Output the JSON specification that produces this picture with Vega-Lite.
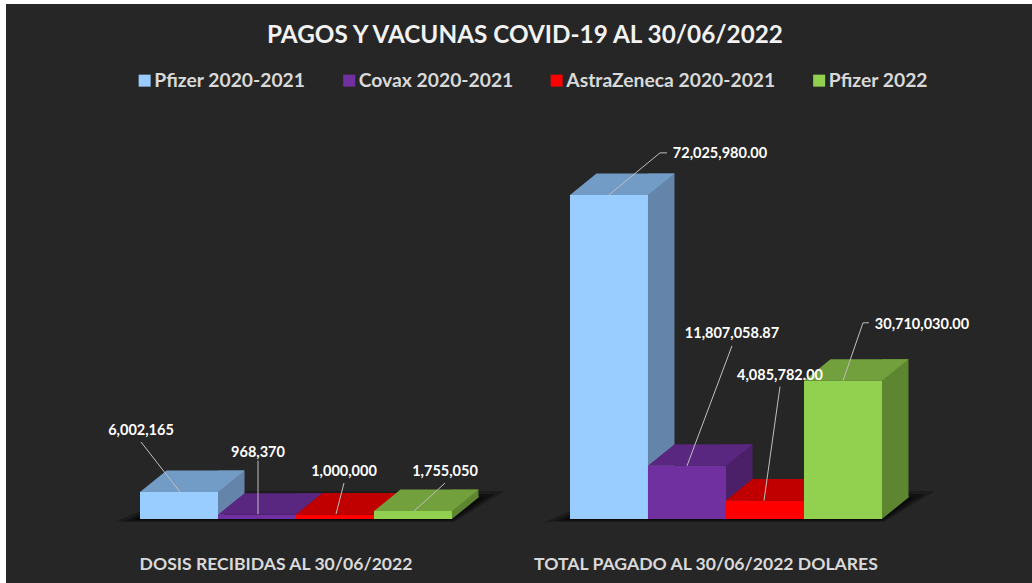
{
"$schema":"https://vega.github.io/schema/vega-lite/v6.json",
"autosize":{"type":"none"},
"padding":{"left":6,"top":4,"right":0,"bottom":0},
"width":1026,
"height":579,
"background":"#ffffff",
"view":{"fill":"#262626","stroke":null},
"title":{"text":"PAGOS Y VACUNAS COVID-19 AL 30/06/2022","anchor":"middle","dx":6,"offset":-44,"font":"Lato","fontSize":24.3,"fontWeight":"bold","color":"#F2F2F2"},
"data":{"values":[
{"grupo":"DOSIS RECIBIDAS AL 30/06/2022","serie":"Pfizer 2020-2021","valor":6002165,"etiqueta":"6,002,165"},
{"grupo":"DOSIS RECIBIDAS AL 30/06/2022","serie":"Covax 2020-2021","valor":968370,"etiqueta":"968,370"},
{"grupo":"DOSIS RECIBIDAS AL 30/06/2022","serie":"AstraZeneca 2020-2021","valor":1000000,"etiqueta":"1,000,000"},
{"grupo":"DOSIS RECIBIDAS AL 30/06/2022","serie":"Pfizer 2022","valor":1755050,"etiqueta":"1,755,050"},
{"grupo":"TOTAL PAGADO AL 30/06/2022 DOLARES","serie":"Pfizer 2020-2021","valor":72025980,"etiqueta":"72,025,980.00"},
{"grupo":"TOTAL PAGADO AL 30/06/2022 DOLARES","serie":"Covax 2020-2021","valor":11807058.87,"etiqueta":"11,807,058.87"},
{"grupo":"TOTAL PAGADO AL 30/06/2022 DOLARES","serie":"AstraZeneca 2020-2021","valor":4085782,"etiqueta":"4,085,782.00"},
{"grupo":"TOTAL PAGADO AL 30/06/2022 DOLARES","serie":"Pfizer 2022","valor":30710030,"etiqueta":"30,710,030.00"}
]},
"encoding":{
"x":{"field":"grupo","type":"nominal","sort":null,"title":null,"scale":{"type":"band","domain":["DOSIS RECIBIDAS AL 30/06/2022","TOTAL PAGADO AL 30/06/2022 DOLARES"],"range":[134,876],"paddingInner":0.2744,"paddingOuter":0},"axis":{"orient":"bottom","offset":-28,"domain":false,"ticks":false,"grid":false,"labelAngle":0,"labelOffset":-20,"labelPadding":0,"labelLimit":500,"labelOverlap":false,"labelFont":"Lato","labelFontSize":17.6,"labelFontWeight":"bold","labelColor":"#D9D9D9"}},
"xOffset":{"field":"serie","type":"nominal","sort":null,"scale":{"type":"band","domain":["Pfizer 2020-2021","Covax 2020-2021","AstraZeneca 2020-2021","Pfizer 2022"],"range":[0,312],"paddingInner":0,"paddingOuter":0}},
"y":{"field":"valor","type":"quantitative","title":null,"scale":{"domain":[0,114444444],"range":[515,0],"nice":false,"zero":true},"axis":null}
},
"layer":[
{"transform":[{"filter":"datum.serie === 'Pfizer 2020-2021'"}],"mark":{"type":"point","filled":true,"size":4,"opacity":0.25,"color":"#000000","shape":"M-64,3L275,3L326,-28L0,-28L-39,-8Z"},"encoding":{"y":{"datum":0}}},
{"transform":[{"filter":"datum.serie === 'Pfizer 2020-2021'"}],"mark":{"type":"point","filled":true,"size":4,"opacity":0.35,"color":"#000000","shape":"M-54,2L274,2L316,-25L0,-25L-39,-5Z"},"encoding":{"y":{"datum":0}}},
{"transform":[{"filter":"datum.serie === 'Pfizer 2020-2021'"}],"mark":{"type":"point","filled":true,"size":4,"opacity":0.5,"color":"#000000","shape":"M-45,1L273,1L306,-22L0,-22L-39,-3Z"},"encoding":{"y":{"datum":0}}},
{"mark":{"type":"point","filled":true,"size":4,"opacity":1,"shape":"M39,0L65.5,-21.5L65.5,-23L39,-23Z"},"encoding":{"y":{"datum":0},"color":{"field":"serie","type":"nominal","legend":null,"scale":{"domain":["Pfizer 2020-2021","Covax 2020-2021","AstraZeneca 2020-2021","Pfizer 2022"],"range":["#6485A9","#4B2069","#B00000","#5E8530"]}}}},
{"mark":{"type":"bar","width":26.5,"yOffset":-21.5,"y2Offset":-21.5},"encoding":{"xOffset":{"field":"serie","type":"nominal","sort":null,"scale":{"type":"band","domain":["Pfizer 2020-2021","Covax 2020-2021","AstraZeneca 2020-2021","Pfizer 2022"],"range":[52.25,364.25],"paddingInner":0,"paddingOuter":0}},"color":{"field":"serie","type":"nominal","legend":null,"scale":{"domain":["Pfizer 2020-2021","Covax 2020-2021","AstraZeneca 2020-2021","Pfizer 2022"],"range":["#6485A9","#4B2069","#B00000","#5E8530"]}}}},
{"mark":{"type":"point","filled":true,"size":4,"opacity":1,"shape":"M-39,0L39,0L65.5,-21.5L-12.5,-21.5Z"},"encoding":{"color":{"field":"serie","type":"nominal","legend":null,"scale":{"domain":["Pfizer 2020-2021","Covax 2020-2021","AstraZeneca 2020-2021","Pfizer 2022"],"range":["#729CC6","#592680","#C00000","#71A03C"]}}}},
{"mark":{"type":"bar","width":78},"encoding":{"color":{"field":"serie","type":"nominal","scale":{"domain":["Pfizer 2020-2021","Covax 2020-2021","AstraZeneca 2020-2021","Pfizer 2022"],"range":["#99CCFF","#7030A0","#FF0000","#92D050"]},"legend":{"title":null,"orient":"none","legendX":129,"legendY":67,"direction":"horizontal","columns":4,"gridAlign":"none","columnPadding":33.5,"symbolType":"square","symbolSize":144,"symbolStrokeWidth":0,"symbolOpacity":1,"labelFont":"Lato","labelFontSize":19.3,"labelFontWeight":"bold","labelColor":"#D9D9D9","labelOffset":0,"labelLimit":300}}}},
{"mark":{"type":"point","filled":false,"size":4,"opacity":1,"stroke":"#BFBFBF","strokeWidth":1},"encoding":{"shape":{"field":"etiqueta","type":"nominal","legend":null,"scale":{"domain":["6,002,165","968,370","1,000,000","1,755,050","72,025,980.00","11,807,058.87","4,085,782.00","30,710,030.00"],"range":["M1,0L-38,-50","M1,-0.5L1,-54","M1,-0.5L9,-31.5","M1,0L32,-28","M0,0L51,-42L58,-42","M0,0L45,-120","M-1,0L15,-114","M0,0L20,-58L26,-58"]}}}},
{"transform":[{"filter":"datum.etiqueta === '6,002,165'"}],"mark":{"type":"text","dx":-38,"dy":-61,"font":"Lato","fontSize":14.5,"fontWeight":"bold","color":"#FFFFFF"},"encoding":{"text":{"field":"etiqueta"}}},
{"transform":[{"filter":"datum.etiqueta === '968,370'"}],"mark":{"type":"text","dx":1,"dy":-62,"font":"Lato","fontSize":14.5,"fontWeight":"bold","color":"#FFFFFF"},"encoding":{"text":{"field":"etiqueta"}}},
{"transform":[{"filter":"datum.etiqueta === '1,000,000'"}],"mark":{"type":"text","dx":9,"dy":-42.5,"font":"Lato","fontSize":14.5,"fontWeight":"bold","color":"#FFFFFF"},"encoding":{"text":{"field":"etiqueta"}}},
{"transform":[{"filter":"datum.etiqueta === '1,755,050'"}],"mark":{"type":"text","dx":32,"dy":-39,"font":"Lato","fontSize":14.5,"fontWeight":"bold","color":"#FFFFFF"},"encoding":{"text":{"field":"etiqueta"}}},
{"transform":[{"filter":"datum.etiqueta === '72,025,980.00'"}],"mark":{"type":"text","dx":111,"dy":-41,"font":"Lato","fontSize":14.5,"fontWeight":"bold","color":"#FFFFFF"},"encoding":{"text":{"field":"etiqueta"}}},
{"transform":[{"filter":"datum.etiqueta === '11,807,058.87'"}],"mark":{"type":"text","dx":45,"dy":-132,"font":"Lato","fontSize":14.5,"fontWeight":"bold","color":"#FFFFFF"},"encoding":{"text":{"field":"etiqueta"}}},
{"transform":[{"filter":"datum.etiqueta === '4,085,782.00'"}],"mark":{"type":"text","dx":15,"dy":-125,"font":"Lato","fontSize":14.5,"fontWeight":"bold","color":"#FFFFFF"},"encoding":{"text":{"field":"etiqueta"}}},
{"transform":[{"filter":"datum.etiqueta === '30,710,030.00'"}],"mark":{"type":"text","dx":79,"dy":-56,"font":"Lato","fontSize":14.5,"fontWeight":"bold","color":"#FFFFFF"},"encoding":{"text":{"field":"etiqueta"}}}
],
"resolve":{"scale":{"color":"independent","xOffset":"independent"}}
}
